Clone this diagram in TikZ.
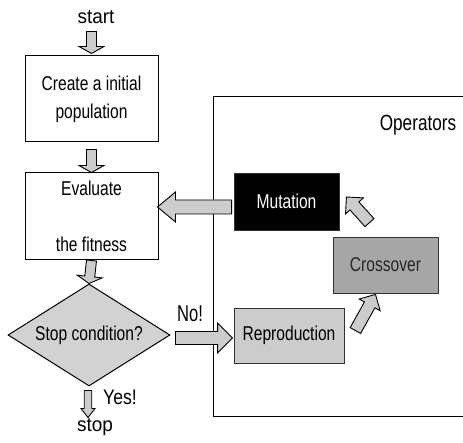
\documentclass[tikz,border=0pt]{standalone}
\usepackage{fontspec}
\setmainfont[FakeStretch=0.78]{Liberation Sans}
\newfontfamily\widefont[FakeStretch=0.95]{Liberation Sans}
\newfontfamily\midfont[FakeStretch=0.84]{Liberation Sans}
\newfontfamily\narrowfont[FakeStretch=0.72]{Liberation Sans}
\usetikzlibrary{calc,shapes.geometric}
\tikzset{
  box/.style={draw=black, line width=1pt, fill=white, rectangle, inner sep=0pt, align=center},
  opbox/.style={draw=black!80, line width=0.8pt, rectangle, inner sep=0pt, minimum height=56pt},
  label/.style={inner sep=0pt},
  blockarrow/.style={draw=black, line width=0.9pt, fill=gray!40, line join=miter},
  frame/.style={draw=black, line width=1pt, rectangle, inner sep=0pt}
}
% #1 tail, #2 tip, #3 half shaft width, #4 half head width, #5 head length
\newcommand\blockarrow[5]{%
  \path #1 coordinate (ba-a);
  \path #2 coordinate (ba-b);
  \path ($(ba-b)!#5!(ba-a)$) coordinate (ba-h);
  \draw[blockarrow] ($(ba-a)!#3!90:(ba-b)$) -- ($(ba-h)!#3!90:(ba-b)$) --
    ($(ba-h)!#4!90:(ba-b)$) -- (ba-b) -- ($(ba-h)!#4!-90:(ba-b)$) --
    ($(ba-h)!#3!-90:(ba-b)$) -- ($(ba-a)!#3!-90:(ba-b)$) -- cycle;
}
\begin{document}
\begin{tikzpicture}[x=1pt, y=-1pt, font=\fontsize{20}{24}\selectfont]
\useasboundingbox[fill=white] (0,0) rectangle (463,443);

% operators frame (extends beyond the right edge)
\node[frame, minimum width=260pt, minimum height=320pt, anchor=north west] (ops) at (213,96) {};
\node[label, font=\fontsize{22}{26}\selectfont] (opstext) at (418,125) {Operators};

% left flow
\node[label, font=\widefont\fontsize{20}{24}\selectfont] (start) at (96,17) {start};
\node[box, minimum width=133pt, minimum height=86pt, font=\fontsize{20}{28}\selectfont] (init) at (91.5,99) {Create a initial\\population};
\node[box, minimum width=133pt, minimum height=87pt] (eval) at (91.5,216.5) {Evaluate\\[32pt]the fitness};
\node[diamond, draw=black, line width=1pt, fill=gray!35, inner sep=0pt, aspect=1.6,
      minimum width=162pt, minimum height=102pt] (cond) at (89,335) {Stop condition?};
\node[label, font=\widefont\fontsize{20}{24}\selectfont] (stop) at (95,427) {stop};
\node[label, font=\midfont\fontsize{21}{24}\selectfont] (yes) at (120,397) {Yes!};
\node[label, font=\narrowfont\fontsize{23}{26}\selectfont] (no) at (190,313.5) {No!};

% operators
\node[opbox, fill=black, text=white, minimum width=105pt, minimum height=57pt] (mut) at (286.5,201.5) {Mutation};
\node[opbox, fill=gray!70, text=black!85, minimum width=105pt] (cross) at (385.5,265) {Crossover};
\node[opbox, fill=gray!40, text=black, minimum width=110pt, minimum height=55pt] (repro) at (289,335.5) {Reproduction};

% block arrows
\blockarrow{($(init.north)+(0,-24)$)}{($(init.north)+(0,-2)$)}{5pt}{12.5pt}{7pt}
\blockarrow{($(init.south)+(0,7)$)}{($(eval.north)+(0,0)$)}{5pt}{12.5pt}{7pt}
\blockarrow{($(eval.south)+(0,0)$)}{($(cond.north)+(0,0)$)}{5pt}{12.5pt}{7pt}
\blockarrow{($(cond.south)+(-1,4)$)}{($(cond.south)+(-1,31)$)}{3.75pt}{7pt}{9pt}
\blockarrow{($(cond.east)+(5,3)$)}{($(repro.west)+(-1,2.5)$)}{6.5pt}{15pt}{15pt}
\blockarrow{($(mut.west)+(-2,5.5)$)}{($(eval.east)+(-1,-9.5)$)}{7pt}{15pt}{18pt}
\blockarrow{($(repro.east)+(11,-5)$)}{($(cross.south)+(-10,1)$)}{6pt}{12pt}{12pt}
\blockarrow{($(cross.north)+(-16,-14)$)}{($(mut.east)+(7,-4.5)$)}{6pt}{12pt}{12pt}
\end{tikzpicture}
\end{document}
